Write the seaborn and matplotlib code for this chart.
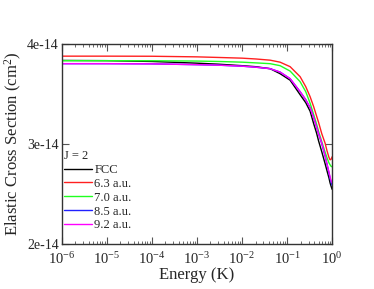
import matplotlib
matplotlib.use("Agg")
import matplotlib.pyplot as plt
import matplotlib.ticker as mticker
import seaborn as sns
import pandas as pd

# energies (K) where the curves were read
energy = [1e-6, 1e-5, 1e-4, 1e-3, 3e-3, 1e-2, 2e-2, 0.042, 0.07, 0.117,
          0.195, 0.26, 0.325, 0.39, 0.45, 0.5, 0.59, 0.7, 0.77, 0.85,
          0.9, 0.95, 1.0]

# cross sections in units of 1e-14 cm^2
fcc = [3.832, 3.83, 3.822, 3.805, 3.795, 3.78, 3.77, 3.75, 3.70, 3.635,
       3.49, 3.41, 3.325, 3.20, 3.11, 3.03, 2.92, 2.80, 2.73, 2.66,
       2.61, 2.575, 2.545]
au_63 = [3.875, 3.875, 3.874, 3.868, 3.862, 3.855, 3.847, 3.835, 3.815, 3.77,
         3.67, 3.57, 3.47, 3.37, 3.28, 3.215, 3.10, 3.005, 2.93, 2.865,
         2.84, 2.845, 2.87]
au_70 = [3.83, 3.83, 3.829, 3.826, 3.822, 3.815, 3.808, 3.80, 3.78, 3.726,
         3.62, 3.52, 3.405, 3.29, 3.20, 3.125, 3.02, 2.915, 2.86, 2.81,
         2.79, 2.775, 2.77]
au_85 = [3.80, 3.80, 3.798, 3.79, 3.785, 3.775, 3.765, 3.75, 3.716, 3.65,
         3.52, 3.44, 3.36, 3.26, 3.17, 3.10, 3.0, 2.875, 2.795, 2.71,
         2.655, 2.615, 2.585]
au_92 = [3.80, 3.80, 3.798, 3.79, 3.785, 3.775, 3.765, 3.75, 3.716, 3.65,
         3.52, 3.44, 3.36, 3.26, 3.17, 3.10, 3.005, 2.88, 2.80, 2.72,
         2.67, 2.63, 2.61]

series_names = ["FCC", "6.3 a.u.", "7.0 a.u.", "8.5 a.u.", "9.2 a.u."]
series_vals = [fcc, au_63, au_70, au_85, au_92]
colors = ["black", "#ff2020", "#20ff20", "#2020ff", "#ff00ff"]

y_ticks = [2e-14, 3e-14, 4e-14]
y_ticklabels = ["2e-14", "3e-14", "4e-14"]
x_ticks = [1e-6, 1e-5, 1e-4, 1e-3, 1e-2, 1e-1, 1e0]

rows = []
for name, vals in zip(series_names, series_vals):
    for e, v in zip(energy, vals):
        rows.append({"energy": e, "sigma": v * 1e-14, "series": name})
df = pd.DataFrame(rows)

sns.set_style("ticks")
plt.rcParams["font.family"] = ["Liberation Serif", "DejaVu Serif"]
plt.rcParams["mathtext.default"] = "regular"

fig = plt.figure(figsize=(3.74, 2.89), dpi=100)
ax = fig.add_axes([0.165, 0.156, 0.723, 0.693])

sns.lineplot(data=df, x="energy", y="sigma", hue="series",
             hue_order=series_names, palette=dict(zip(series_names, colors)),
             linewidth=1.0, ax=ax)

ax.set_xscale("log")
ax.set_xlim(1e-6, 1e0)
ax.set_ylim(2e-14, 4e-14)
ax.xaxis.set_major_locator(mticker.FixedLocator(x_ticks))
ax.xaxis.set_minor_locator(mticker.LogLocator(base=10, subs=range(2, 10), numticks=20))
ax.xaxis.set_major_formatter(mticker.LogFormatterMathtext())
ax.set_yticks(y_ticks)
ax.set_yticklabels(y_ticklabels)

ax.tick_params(which="both", direction="in", top=True, right=True,
               labelsize=10, color="#555555")
ax.tick_params(axis="x", pad=5, labelsize=10.5)
ax.tick_params(axis="y", pad=2)
ax.tick_params(which="major", length=5, width=0.8)
ax.tick_params(which="minor", length=2.5, width=0.6)
for sp in ax.spines.values():
    sp.set_linewidth(1.0)
    sp.set_color("#333333")

ax.set_xlabel("Energy (K)", fontsize=12, labelpad=0)
ax.set_ylabel("Elastic Cross Section (cm$^2$)", fontsize=12, labelpad=2)

leg = ax.legend(title="J = 2", loc="lower left", frameon=False, fontsize=9,
                title_fontsize=9, handlelength=2.2, handletextpad=0.2,
                labelspacing=0.15, borderaxespad=0.1, borderpad=0.1,
                bbox_to_anchor=(0.0, 0.05))
leg._legend_box.align = "left"

fig.savefig("out.png", dpi=100)
